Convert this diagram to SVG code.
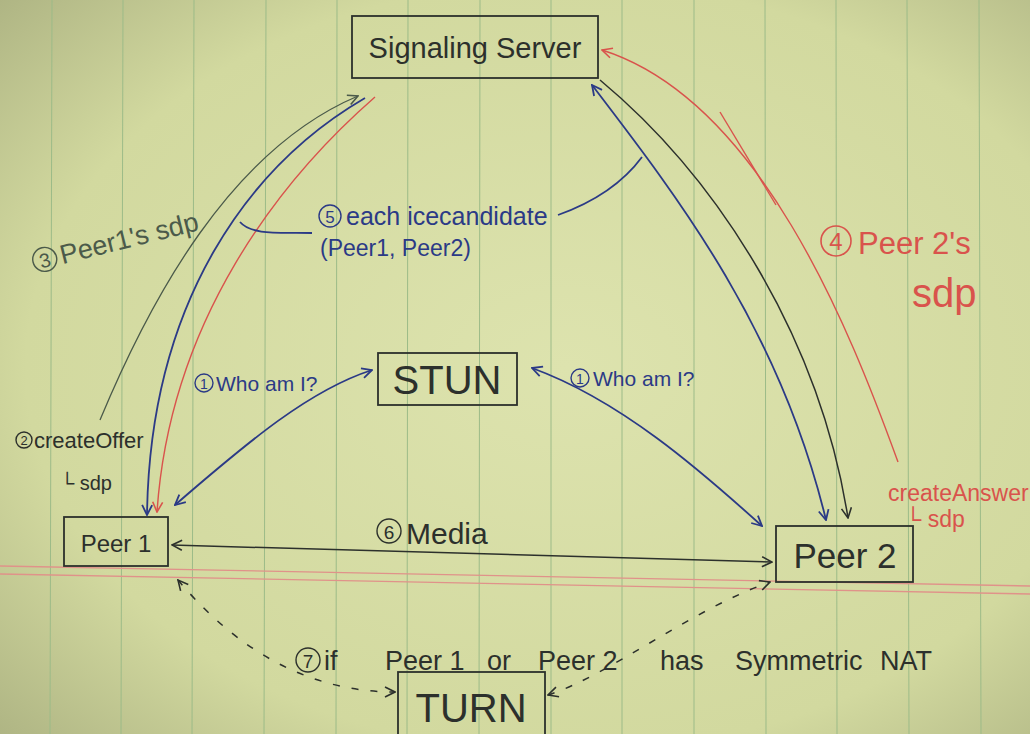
<svg xmlns="http://www.w3.org/2000/svg" width="1030" height="734" viewBox="0 0 1030 734">
<defs>
<radialGradient id="paper" cx="0.55" cy="0.5" r="0.75">
<stop offset="0" stop-color="#dde3ae"/>
<stop offset="0.7" stop-color="#d2d99f"/>
<stop offset="1" stop-color="#aeb483"/>
</radialGradient>
<marker id="mb" viewBox="0 0 12 12" refX="11" refY="6" markerWidth="12" markerHeight="12" markerUnits="userSpaceOnUse" orient="auto-start-reverse"><path d="M1,1 L11,6 L1,11" fill="none" stroke="#2b3a86" stroke-width="1.8"/></marker>
<marker id="md" viewBox="0 0 12 12" refX="11" refY="6" markerWidth="12" markerHeight="12" markerUnits="userSpaceOnUse" orient="auto-start-reverse"><path d="M1,1 L11,6 L1,11" fill="none" stroke="#2c302c" stroke-width="1.6"/></marker>
<marker id="mg" viewBox="0 0 12 12" refX="11" refY="6" markerWidth="12" markerHeight="12" markerUnits="userSpaceOnUse" orient="auto-start-reverse"><path d="M1,1 L11,6 L1,11" fill="none" stroke="#4b5a4a" stroke-width="1.6"/></marker>
<marker id="mr" viewBox="0 0 12 12" refX="11" refY="6" markerWidth="12" markerHeight="12" markerUnits="userSpaceOnUse" orient="auto-start-reverse"><path d="M1,1 L11,6 L1,11" fill="none" stroke="#d9534c" stroke-width="1.6"/></marker>
</defs>
<style>
.rule{stroke:#9cbb88;stroke-width:1}
.box{fill:none;stroke:#2c302c;stroke-width:1.8}
.t{font-family:"Liberation Sans",Arial,sans-serif;fill:#2c302c}
.tb{font-family:"Liberation Sans",Arial,sans-serif;fill:#2b3a86}
.tr{font-family:"Liberation Sans",Arial,sans-serif;fill:#d9534c}
.tg{font-family:"Liberation Sans",Arial,sans-serif;fill:#4b5a4a}
.cb{fill:none;stroke:#2b3a86;stroke-width:1.4}
.cd{fill:none;stroke:#2c302c;stroke-width:1.4}
.cr{fill:none;stroke:#d9534c;stroke-width:1.6}
.cg{fill:none;stroke:#4b5a4a;stroke-width:1.4}
.lb{fill:none;stroke:#2b3a86;stroke-width:1.8}
.ld{fill:none;stroke:#2c302c;stroke-width:1.5}
.lg{fill:none;stroke:#4b5a4a;stroke-width:1.3}
.lr{fill:none;stroke:#d9534c;stroke-width:1.4}
.dash{stroke-dasharray:7 12}
</style>
<rect x="0" y="0" width="1030" height="734" fill="url(#paper)"/>
<g id="paper-rules">
<line class="rule" x1="52" y1="0" x2="50" y2="734"/>
<line class="rule" x1="123" y1="0" x2="121" y2="734"/>
<line class="rule" x1="194" y1="0" x2="192" y2="734"/>
<line class="rule" x1="266" y1="0" x2="264" y2="734"/>
<line class="rule" x1="337" y1="0" x2="336" y2="734"/>
<line class="rule" x1="408" y1="0" x2="407" y2="734"/>
<line class="rule" x1="480" y1="0" x2="479" y2="734"/>
<line class="rule" x1="551" y1="0" x2="551" y2="734"/>
<line class="rule" x1="622" y1="0" x2="622" y2="734"/>
<line class="rule" x1="694" y1="0" x2="694" y2="734"/>
<line class="rule" x1="765" y1="0" x2="766" y2="734"/>
<line class="rule" x1="836" y1="0" x2="837" y2="734"/>
<line class="rule" x1="907" y1="0" x2="909" y2="734"/>
<line class="rule" x1="979" y1="0" x2="981" y2="734"/>
<line x1="0" y1="566" x2="1030" y2="586" stroke="#e0928a" stroke-width="1.3"/>
<line x1="0" y1="574" x2="1030" y2="594" stroke="#e0928a" stroke-width="1.3"/>
</g>
<g id="connectors">
<path class="lg" d="M100 420 C150 300 230 150 358 96" marker-end="url(#mg)"/>
<path class="lb" d="M365 98 C250 165 150 300 147 515" marker-end="url(#mb)"/>
<path class="lr" d="M375 97 C280 180 170 320 157 512" marker-end="url(#mr)"/>
<path class="lb" d="M592 85 C680 200 780 330 826 520" marker-start="url(#mb)" marker-end="url(#mb)"/>
<path class="ld" d="M600 80 C720 180 820 340 848 518" marker-end="url(#md)"/>
<path class="lr" d="M898 462 C850 330 760 100 602 50" marker-end="url(#mr)"/>
<path class="lr" d="M720 112 L776 205"/>
<path class="lb" d="M240 222 C252 236 282 232 312 233"/>
<path class="lb" d="M558 215 C600 200 625 180 642 157"/>
<path class="lb" d="M175 505 C250 440 310 390 372 370" marker-start="url(#mb)" marker-end="url(#mb)"/>
<path class="lb" d="M532 368 C620 400 700 470 762 526" marker-start="url(#mb)" marker-end="url(#mb)"/>
<path class="ld" d="M172 545 L772 562" marker-start="url(#md)" marker-end="url(#md)"/>
<path class="ld dash" d="M178 580 C220 630 290 692 395 692" marker-start="url(#md)" marker-end="url(#md)"/>
<path class="ld dash" d="M548 695 C610 675 690 610 770 582" marker-start="url(#md)" marker-end="url(#md)"/>
</g>
<g id="signaling-server">
<rect class="box" x="352" y="16" width="246" height="62"/>
<text class="t" x="475" y="58" font-size="29" text-anchor="middle">Signaling Server</text>
</g>
<g id="stun">
<rect class="box" x="378" y="353" width="139" height="52"/>
<text class="t" x="447" y="394" font-size="40" text-anchor="middle">STUN</text>
</g>
<g id="peer1">
<rect class="box" x="64" y="517" width="104" height="49"/>
<text class="t" x="116" y="552" font-size="24" text-anchor="middle">Peer 1</text>
</g>
<g id="peer2">
<rect class="box" x="776" y="526" width="137" height="56"/>
<text class="t" x="845" y="568" font-size="35" text-anchor="middle">Peer 2</text>
</g>
<g id="turn">
<rect class="box" x="398" y="672" width="147" height="70"/>
<text class="t" x="471" y="722" font-size="40" text-anchor="middle">TURN</text>
</g>
<g id="labels">
<g transform="rotate(-14 110 240)">
<circle class="cg" cx="42" cy="243" r="12"/>
<text class="tg" x="42" y="251" font-size="20" text-anchor="middle">3</text>
<text class="tg" x="58" y="252" font-size="27">Peer1's sdp</text>
</g>
<circle class="cd" cx="24" cy="440" r="8"/>
<text class="t" x="24" y="445" font-size="13" text-anchor="middle">2</text>
<text class="t" x="34" y="448" font-size="22">createOffer</text>
<text class="t" x="60" y="490" font-size="20">└ sdp</text>
<circle class="cb" cx="330" cy="216" r="11"/>
<text class="tb" x="330" y="223" font-size="17" text-anchor="middle">5</text>
<text class="tb" x="346" y="225" font-size="25">each icecandidate</text>
<text class="tb" x="320" y="256" font-size="23">(Peer1, Peer2)</text>
<circle class="cb" cx="204" cy="383" r="9"/>
<text class="tb" x="204" y="389" font-size="14" text-anchor="middle">1</text>
<text class="tb" x="216" y="391" font-size="21">Who am I?</text>
<circle class="cb" cx="580" cy="378" r="9"/>
<text class="tb" x="580" y="384" font-size="14" text-anchor="middle">1</text>
<text class="tb" x="593" y="386" font-size="21">Who am I?</text>
<circle class="cr" cx="836" cy="241" r="15"/>
<text class="tr" x="836" y="250" font-size="24" text-anchor="middle">4</text>
<text class="tr" x="858" y="254" font-size="31">Peer 2's</text>
<text class="tr" x="912" y="307" font-size="40">sdp</text>
<text class="tr" x="888" y="501" font-size="23">createAnswer</text>
<text class="tr" x="905" y="527" font-size="23">└ sdp</text>
<circle class="cd" cx="389" cy="531" r="12"/>
<text class="t" x="389" y="539" font-size="19" text-anchor="middle">6</text>
<text class="t" x="406" y="544" font-size="30">Media</text>
<circle class="cd" cx="308" cy="660" r="12"/>
<text class="t" x="308" y="668" font-size="19" text-anchor="middle">7</text>
<text class="t" y="670" font-size="27"><tspan x="324">if</tspan><tspan x="385">Peer 1</tspan><tspan x="487">or</tspan><tspan x="538">Peer 2</tspan><tspan x="660">has</tspan><tspan x="735">Symmetric</tspan><tspan x="880">NAT</tspan></text>
</g>
</svg>
